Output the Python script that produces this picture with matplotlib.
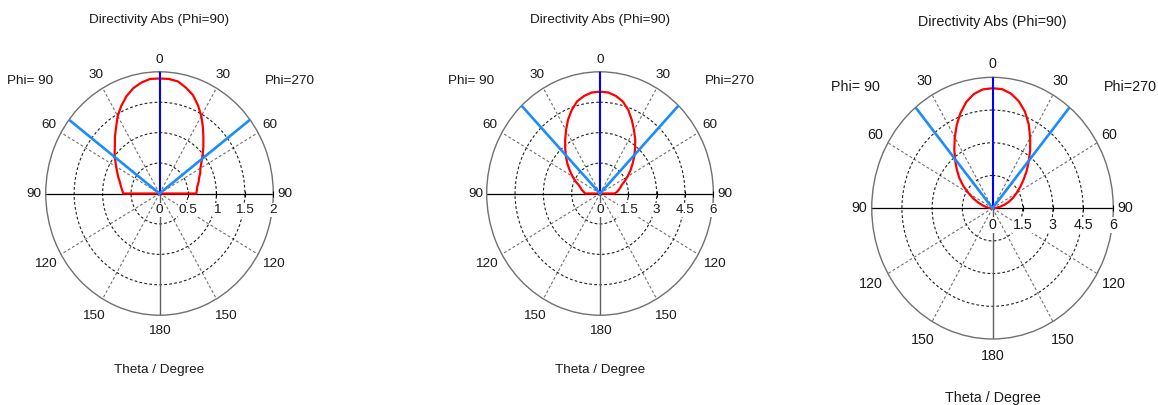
import numpy as np
import matplotlib
matplotlib.use("Agg")
import matplotlib.pyplot as plt

plt.rcParams["font.family"] = ["Liberation Sans", "DejaVu Sans"]

# theta samples in degree, same for every cut
theta_deg = [0, 5, 10, 15, 20, 25, 30, 35, 40, 45,
             50, 55, 60, 65, 70, 75, 80, 85, 90]

# directivity (linear) for the Phi=90 half (left) and the Phi=270 half (right)
d1_phi90 = [1.89, 1.89, 1.85, 1.79, 1.70, 1.59, 1.47, 1.33, 1.22, 1.11,
            1.03, 0.95, 0.88, 0.82, 0.77, 0.72, 0.69, 0.66, 0.636]
d1_phi270 = [1.89, 1.89, 1.87, 1.80, 1.72, 1.60, 1.47, 1.33, 1.20, 1.09,
             0.99, 0.90, 0.83, 0.79, 0.74, 0.71, 0.675, 0.66, 0.645]

d2_phi90 = [5.02, 5.00, 4.88, 4.70, 4.38, 4.01, 3.60, 3.22, 2.86, 2.55,
            2.24, 1.95, 1.68, 1.44, 1.19, 1.06, 0.97, 0.86, 0.79]
d2_phi270 = [5.02, 5.00, 4.88, 4.69, 4.38, 3.99, 3.60, 3.25, 2.89, 2.56,
             2.24, 1.96, 1.69, 1.45, 1.22, 1.11, 1.00, 0.90, 0.77]

d3_phi90 = [5.50, 5.47, 5.32, 5.04, 4.65, 4.21, 3.75, 3.31, 2.90, 2.51,
            2.15, 1.77, 1.37, 1.06, 0.76, 0.52, 0.33, 0.19, 0.05]
d3_phi270 = [5.50, 5.48, 5.33, 5.07, 4.71, 4.25, 3.74, 3.26, 2.80, 2.39,
             2.00, 1.67, 1.37, 1.13, 0.87, 0.62, 0.38, 0.18, 0.03]

r_ticks1 = [0, 0.5, 1, 1.5, 2]
r_ticks2 = [0, 1.5, 3, 4.5, 6]
r_ticks3 = [0, 1.5, 3, 4.5, 6]

# 3 dB beam edges (half angle, degree)
beam_half = [52.7, 43.8, 39.6]

angle_labels = [0, 30, 60, 90, 120, 150, 180]
angle_label_r = {0: 1.10, 30: 1.12, 60: 1.12, 90: 1.10, 120: 1.16, 150: 1.16, 180: 1.13}

RED = "#ff0000"
BLUE = "#0000ff"
LIGHT_BLUE = "#1a8cff"
TXT = "#1a1a1a"


def radial_segment(ax, ang, r0, r1, **kw):
    a = np.deg2rad(ang)
    ax.plot([a, a], [r0, r1], **kw)


def draw_cut(ax, d_left, d_right, r_ticks, half_bw, fs):
    rmax = r_ticks[-1]
    ax.set_theta_zero_location("N")
    ax.set_theta_direction(-1)
    ax.set_aspect("auto")
    ax.set_ylim(0, rmax)

    spokes = [30, 60, 120, 150, 210, 240, 300, 330]
    ax.set_xticks(np.deg2rad(spokes))
    ax.set_xticklabels([])
    ax.set_yticks(r_ticks[1:-1])
    ax.set_yticklabels([])
    ax.tick_params(length=0)
    ax.xaxis.grid(True, color="#707070", ls=(0, (2.5, 2)), lw=0.8)
    ax.yaxis.grid(True, color="#202020", ls=(0, (2.5, 2)), lw=0.8)
    ax.spines["polar"].set_color("#707070")
    ax.spines["polar"].set_linewidth(1.0)

    # solid axes: horizontal diameter and lower half of the vertical
    radial_segment(ax, 90, 0, rmax, color="black", lw=0.9, zorder=2)
    radial_segment(ax, 270, 0, rmax, color="black", lw=0.9, zorder=2)
    radial_segment(ax, 180, 0, rmax, color="#606060", lw=1.0, zorder=2)

    # small ticks along the radial scale
    ax.plot(np.full(len(r_ticks) - 1, np.pi / 2), r_ticks[1:], ls="none",
            marker="|", ms=5, mew=0.8, color="black", clip_on=False, zorder=3)

    # pattern: left half is Phi=90 (negative angle), right half Phi=270
    th = np.array(theta_deg, dtype=float)
    ang = np.concatenate([[-91.0], -th[::-1], th[1:], [91.0]])
    rad = np.concatenate([[0.0], np.array(d_left)[::-1], np.array(d_right)[1:], [0.0]])
    ax.plot(np.deg2rad(ang), rad, color=RED, lw=1.6, zorder=4)

    # main lobe direction and 3 dB beam edges
    radial_segment(ax, 0, 0, rmax, color=BLUE, lw=1.5, zorder=5)
    radial_segment(ax, half_bw, 0, rmax, color=LIGHT_BLUE, lw=1.9, zorder=5)
    radial_segment(ax, -half_bw, 0, rmax, color=LIGHT_BLUE, lw=1.9, zorder=5)

    # theta labels on both sides
    for a in angle_labels:
        rr = angle_label_r[a] * rmax
        sides = [a] if a in (0, 180) else [a, -a]
        for s in sides:
            ax.text(np.deg2rad(s), rr, str(a), ha="center", va="center",
                    fontsize=fs, color=TXT)

    # radial scale labels below the horizontal axis
    for v in r_ticks:
        ax.annotate(f"{v:g}", xy=(np.pi / 2, v), xytext=(0, -12),
                    textcoords="offset points", ha="center", va="center",
                    fontsize=fs, color=TXT, annotation_clip=False,
                    bbox=dict(fc="white", ec="none", pad=0.6), zorder=6)

    ax.text(0.5, 1.213, "Directivity Abs (Phi=90)", transform=ax.transAxes,
            ha="center", va="center", fontsize=fs, color=TXT)
    ax.text(0.5, -0.225, "Theta / Degree", transform=ax.transAxes,
            ha="center", va="center", fontsize=fs, color=TXT)
    ax.text(-0.068, 0.963, "Phi= 90", transform=ax.transAxes,
            ha="center", va="center", fontsize=fs, color=TXT)
    ax.text(1.071, 0.963, "Phi=270", transform=ax.transAxes,
            ha="center", va="center", fontsize=fs, color=TXT)


fig = plt.figure(figsize=(11.58, 4.05), dpi=100, facecolor="white")

ax1 = fig.add_axes([0.0395, 0.2217, 0.1965, 0.601], projection="polar")
ax2 = fig.add_axes([0.4203, 0.2217, 0.1957, 0.601], projection="polar")
ax3 = fig.add_axes([0.7528, 0.1630, 0.2086, 0.646], projection="polar")

draw_cut(ax1, d1_phi90, d1_phi270, r_ticks1, beam_half[0], 9.7)
draw_cut(ax2, d2_phi90, d2_phi270, r_ticks2, beam_half[1], 9.7)
draw_cut(ax3, d3_phi90, d3_phi270, r_ticks3, beam_half[2], 10.3)

fig.savefig("out.png", dpi=100, facecolor="white")
